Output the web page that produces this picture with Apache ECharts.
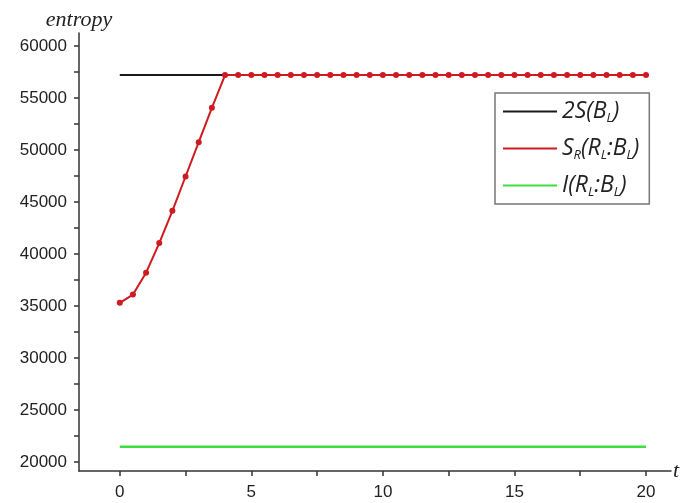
<!DOCTYPE html>
<html>
<head>
<meta charset="utf-8">
<script src="https://cdn.jsdelivr.net/npm/echarts@6/dist/echarts.min.js"></script>
<style>html,body{margin:0;padding:0;background:#fff;}#c{width:683px;height:503px;}</style>
</head>
<body>
<div id="c"></div>
<script>
const tValues = [0,0.5,1,1.5,2,2.5,3,3.5,4,4.5,5,5.5,6,6.5,7,7.5,8,8.5,9,9.5,10,10.5,11,11.5,12,12.5,13,13.5,14,14.5,15,15.5,16,16.5,17,17.5,18,18.5,19,19.5,20];
const srValues = [35300,36100,38200,41050,44150,47450,50750,54050,57200,57200,57200,57200,57200,57200,57200,57200,57200,57200,57200,57200,57200,57200,57200,57200,57200,57200,57200,57200,57200,57200,57200,57200,57200,57200,57200,57200,57200,57200,57200,57200,57200];
const twoSx = [0,20];
const twoSValues = [57200,57200];
const iX = [0,20];
const iValues = [21450,21450];
const xTickLabels = [0,5,10,15,20];
const xTicks = [0,2.5,5,7.5,10,12.5,15,17.5,20];
const yTickLabels = [20000,25000,30000,35000,40000,45000,50000,55000,60000];
const yTicks = [20000,22500,25000,27500,30000,32500,35000,37500,40000,42500,45000,47500,50000,52500,55000,57500,60000];
const seriesNames = ['2S(B_L)','S_R(R_L:B_L)','I(R_L:B_L)'];

const pair = (xs, ys) => xs.map((x, i) => [x, ys[i]]);
const legendRich = {
  '2S(B_L)': '{m|2S(B}{s|L}{m|)}',
  'S_R(R_L:B_L)': '{m|S}{s|R}{m|(R}{s|L}{m|:B}{s|L}{m|)}',
  'I(R_L:B_L)': '{m|I(R}{s|L}{m|:B}{s|L}{m|)}'
};
const axisCol = '#333';
const chart = echarts.init(document.getElementById('c'));
chart.setOption({
  animation: false,
  backgroundColor: '#fff',
  grid: {left: 79, right: 12, top: 33, bottom: 32},
  xAxis: {
    type: 'value', min: -1.55, max: 20.95,
    name: 't', nameLocation: 'end', nameGap: 2,
    nameTextStyle: {fontFamily: 'Liberation Serif', fontStyle: 'italic', fontSize: 22, color: '#222', verticalAlign: 'middle'},
    axisLine: {show: true, onZero: false, lineStyle: {color: axisCol, width: 1.5}},
    axisTick: {show: true, inside: false, length: 5, customValues: xTicks, lineStyle: {color: axisCol, width: 1.5}},
    axisLabel: {customValues: xTickLabels, margin: 13, fontFamily: 'Liberation Sans', fontSize: 17, color: '#222', formatter: v => String(v)},
    splitLine: {show: false}
  },
  yAxis: {
    type: 'value', min: 19130, max: 61250,
    name: 'entropy', nameLocation: 'end', nameGap: 2,
    nameTextStyle: {fontFamily: 'Liberation Serif', fontStyle: 'italic', fontSize: 22, color: '#222', align: 'center'},
    axisLine: {show: true, onZero: false, lineStyle: {color: axisCol, width: 1.5}},
    axisTick: {show: true, inside: false, length: 5, customValues: yTicks, lineStyle: {color: axisCol, width: 1.5}},
    axisLabel: {customValues: yTickLabels, margin: 12, fontFamily: 'Liberation Sans', fontSize: 17, color: '#222', formatter: v => String(v)},
    splitLine: {show: false}
  },
  legend: {
    orient: 'vertical', left: 495, top: 93,
    padding: [7, 10, 5, 8], itemGap: 12,
    itemWidth: 54, itemHeight: 2,
    borderColor: '#777', borderWidth: 1.5,
    data: seriesNames.map(n => ({name: n, icon: 'rect'})),
    formatter: n => legendRich[n],
    textStyle: {
      color: '#222',
      rich: {
        m: {fontFamily: 'Open Sans', fontStyle: 'italic', fontSize: 23, lineHeight: 27, color: '#222'},
        s: {fontFamily: 'Open Sans', fontStyle: 'italic', fontSize: 13, lineHeight: 15, verticalAlign: 'bottom', color: '#222'}
      }
    }
  },
  series: [
    {name: seriesNames[0], type: 'line', data: pair(twoSx, twoSValues), symbol: 'none', color: '#1a1a1a', lineStyle: {width: 2, color: '#1a1a1a'}, z: 2},
    {name: seriesNames[1], type: 'line', data: pair(tValues, srValues), symbol: 'circle', symbolSize: 6, color: '#cf1a1f', itemStyle: {color: '#cf1a1f'}, lineStyle: {width: 2, color: '#cf1a1f'}, z: 3},
    {name: seriesNames[2], type: 'line', data: pair(iX, iValues), symbol: 'none', color: '#3fde3f', lineStyle: {width: 2.5, color: '#3fde3f'}, z: 2}
  ]
});
</script>
</body>
</html>
